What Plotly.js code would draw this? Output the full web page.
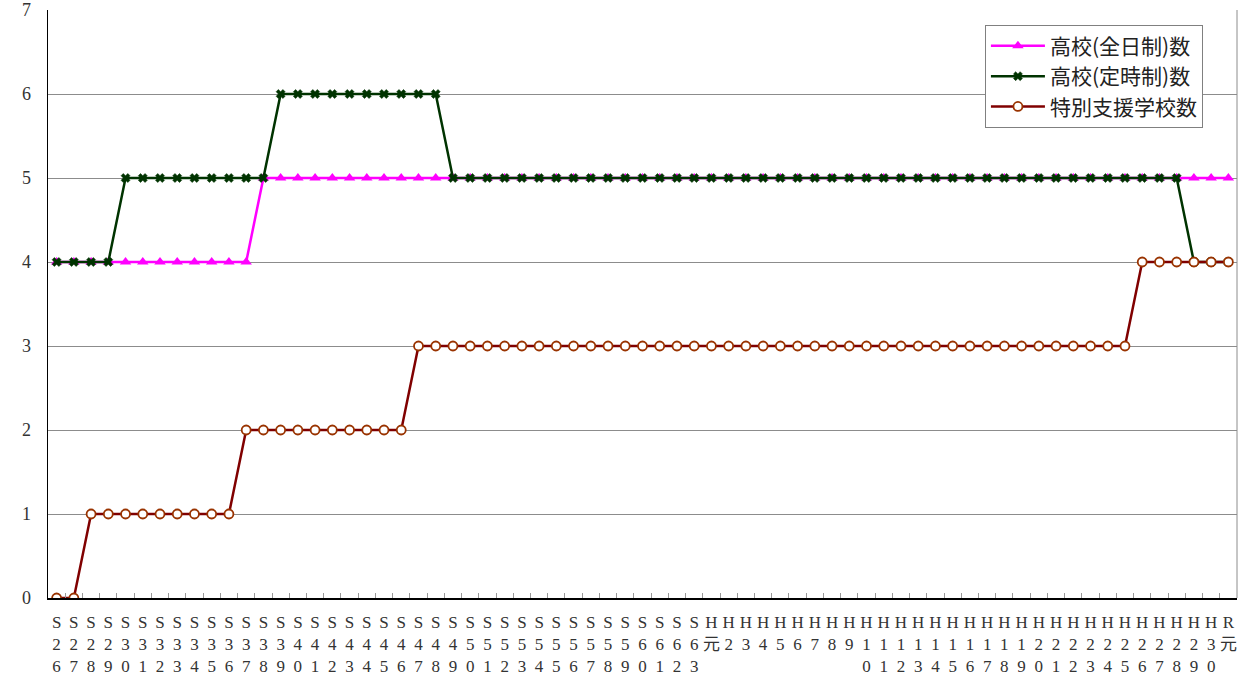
<!DOCTYPE html>
<html>
<head>
<meta charset="utf-8">
<script src="https://cdn.plot.ly/plotly-3.0.1.min.js"></script>
<style>html,body{margin:0;padding:0;background:#fff;}#chart{width:1247px;height:677px;}</style>
</head>
<body>
<div id="chart"></div>
<script>
// Categories: 昭和26〜63, 平成元〜30, 令和元
const categories = [
  "S26","S27","S28","S29","S30","S31","S32","S33","S34","S35","S36","S37","S38","S39",
  "S40","S41","S42","S43","S44","S45","S46","S47","S48","S49","S50","S51","S52","S53",
  "S54","S55","S56","S57","S58","S59","S60","S61","S62","S63",
  "H元","H2","H3","H4","H5","H6","H7","H8","H9","H10","H11","H12","H13","H14","H15",
  "H16","H17","H18","H19","H20","H21","H22","H23","H24","H25","H26","H27","H28","H29","H30",
  "R元"
];
// Tick labels written vertically, one character per line
const tickLabels = categories.map(c => c.split("").join("<br>"));

const fullTime = [
  4,4,4,4,4,4,4,4,4,4,4,4,5,5,
  5,5,5,5,5,5,5,5,5,5,5,5,5,5,
  5,5,5,5,5,5,5,5,5,5,
  5,5,5,5,5,5,5,5,5,5,5,5,5,5,5,
  5,5,5,5,5,5,5,5,5,5,5,5,5,5,5,
  5
];
const partTime = [
  4,4,4,4,5,5,5,5,5,5,5,5,5,6,
  6,6,6,6,6,6,6,6,6,5,5,5,5,5,
  5,5,5,5,5,5,5,5,5,5,
  5,5,5,5,5,5,5,5,5,5,5,5,5,5,5,
  5,5,5,5,5,5,5,5,5,5,5,5,5,4,4,
  4
];
const special = [
  0,0,1,1,1,1,1,1,1,1,1,2,2,2,
  2,2,2,2,2,2,2,3,3,3,3,3,3,3,
  3,3,3,3,3,3,3,3,3,3,
  3,3,3,3,3,3,3,3,3,3,3,3,3,3,3,
  3,3,3,3,3,3,3,3,3,3,4,4,4,4,4,
  4
];
const seriesNames = ["高校(全日制)数", "高校(定時制)数", "特別支援学校数"];

const serif = "Liberation Serif, Noto Sans CJK JP, serif";

const traces = [
  {
    x: categories, y: fullTime, name: seriesNames[0], type: "scatter", mode: "lines+markers",
    line: {color: "#FF00FF", width: 2.5},
    marker: {symbol: "triangle-up", size: 10, color: "#FF00FF"}
  },
  {
    x: categories, y: partTime, name: seriesNames[1], type: "scatter", mode: "lines+markers",
    line: {color: "#003300", width: 2.5},
    marker: {symbol: "x", size: 8, color: "#003300", line: {color: "#003300", width: 0.5}}
  },
  {
    x: categories, y: special, name: seriesNames[2], type: "scatter", mode: "lines+markers",
    line: {color: "#800000", width: 2.5},
    marker: {symbol: "circle", size: 9, color: "#FFFFFF", line: {color: "#993300", width: 1.8}}
  }
];

const layout = {
  width: 1247, height: 677,
  margin: {l: 48, r: 10, t: 10, b: 79},
  paper_bgcolor: "#FFFFFF", plot_bgcolor: "#FFFFFF",
  showlegend: true,
  legend: {
    x: 0.788, y: 0.975, xanchor: "left", yanchor: "top",
    bgcolor: "#FFFFFF", bordercolor: "#808080", borderwidth: 1,
    font: {family: "Noto Sans CJK JP, sans-serif", size: 21, color: "#222"},
    itemwidth: 54
  },
  xaxis: {
    type: "category",
    tickmode: "array", tickvals: categories, ticktext: tickLabels,
    range: [-0.5, categories.length - 0.5],
    tickson: "boundaries", ticks: "inside", ticklen: 5, tickcolor: "#999999",
    showline: true, linecolor: "#000000", linewidth: 1.5,
    showgrid: false, zeroline: false,
    tickangle: 0, ticklabelstandoff: 8,
    tickfont: {family: serif, size: 17, color: "#333"},
    automargin: false
  },
  yaxis: {
    range: [0, 7], dtick: 1, tick0: 0,
    showline: true, linecolor: "#000000", linewidth: 1.5,
    showgrid: true, gridcolor: "#8c8c8c", gridwidth: 1,
    zeroline: false, ticks: "", ticklabelstandoff: 12,
    ticklabeloverflow: "allow",
    tickfont: {family: serif, size: 18, color: "#333"},
    automargin: false
  },
  shapes: [
    {type: "line", xref: "paper", yref: "paper", x0: 1, x1: 1, y0: 0, y1: 1,
     line: {color: "#8c8c8c", width: 1}}
  ]
};

Plotly.newPlot("chart", traces, layout, {displayModeBar: false, staticPlot: true});
</script>
</body>
</html>
